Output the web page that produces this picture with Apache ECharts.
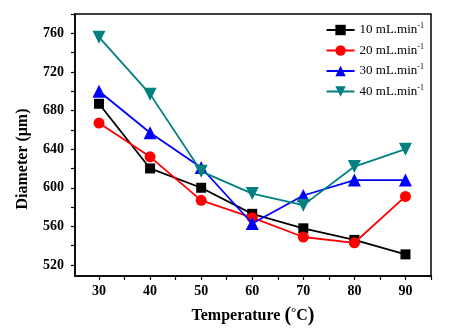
<!DOCTYPE html>
<html><head><meta charset="utf-8">
<script src="https://cdn.jsdelivr.net/npm/echarts@6/dist/echarts.min.js"></script>
<style>html,body{margin:0;padding:0;background:#fff}#c{width:465px;height:335px}</style>
</head><body><div id="c"></div>
<script>
var temps = [30, 40, 50, 60, 70, 80, 90];
var flow10 = [687, 620, 600, 573, 558, 546, 531];
var flow20 = [667, 632, 587, 569, 549, 543, 591];
var flow30 = [700, 657, 621, 563, 592, 608, 608];
var flow40 = [756, 697, 617, 594, 582, 622, 640];
var seriesNames = ['10 mL.min', '20 mL.min', '30 mL.min', '40 mL.min'];
var xLabels = [30, 40, 50, 60, 70, 80, 90];
var xTicks = [25, 30, 35, 40, 45, 50, 55, 60, 65, 70, 75, 80, 85, 90, 95];
var yLabels = [520, 560, 600, 640, 680, 720, 760];
var yTicks = [520, 540, 560, 580, 600, 620, 640, 660, 680, 700, 720, 740, 760, 780];

var FONT = 'Liberation Serif';
function pairs(vals){ return temps.map(function(t,i){ return [t, vals[i]]; }); }
var colors = ['#000000', '#ff0000', '#0000ff', '#008080'];
var symbols = ['rect', 'circle', 'triangle', 'path://M0,0 L10,0 L5,9 Z'];
var sizes = [10, 11, 13, 13];
var data = [flow10, flow20, flow30, flow40];

var chart = echarts.init(document.getElementById('c'), null, {renderer: 'canvas'});
chart.setOption({
  animation: false,
  backgroundColor: '#fff',
  grid: {left: 75, top: 14, right: 34, bottom: 59, show: true, borderColor: '#000', borderWidth: 1.5, backgroundColor: 'transparent'},
  legend: {
    right: 36, top: 17, orient: 'vertical', itemGap: 6, itemWidth: 28, itemHeight: 13,
    data: seriesNames,
    formatter: function(n){ return '{a|' + n + '}{s|-1}'; },
    textStyle: {fontFamily: FONT, fontSize: 13, color: '#000',
      rich: {a: {fontFamily: FONT, fontSize: 13, color: '#000'}, s: {fontFamily: FONT, fontSize: 8, color: '#000', verticalAlign: 'top', padding: [0,0,8,0]}}}
  },
  graphic: [{
    type: 'text', x: 23, y: 159, rotation: Math.PI / 2,
    style: {text: 'Diameter (μm)', fontFamily: FONT, fontSize: 16, fontWeight: 'bold', fill: '#000', align: 'center', verticalAlign: 'middle'}
  }],
  xAxis: {
    type: 'value', min: 25.3, max: 95,
    name: '{t|Temperature }{p|(}{d|°}{t|C}{p|)}', nameLocation: 'middle', nameGap: 30,
    nameTextStyle: {fontFamily: FONT, fontSize: 16, fontWeight: 'bold', color: '#000',
      rich: {
        t: {fontFamily: FONT, fontSize: 16, fontWeight: 'bold', color: '#000'},
        p: {fontFamily: FONT, fontSize: 20, fontWeight: 'bold', color: '#000'},
        d: {fontFamily: FONT, fontSize: 13, fontWeight: 'bold', color: '#000', verticalAlign: 'top', padding: [0,0,6,0]}
      }},
    axisLine: {show: true, onZero: false, lineStyle: {color: '#000', width: 1.5}},
    axisTick: {show: true, inside: false, length: 4, customValues: xTicks, lineStyle: {color: '#000', width: 1.2}},
    axisLabel: {customValues: xLabels, fontFamily: FONT, fontSize: 14, fontWeight: 'bold', color: '#000', margin: 8},
    splitLine: {show: false}
  },
  yAxis: {
    type: 'value', min: 508.6, max: 780,
    axisLine: {show: true, onZero: false, lineStyle: {color: '#000', width: 1.5}},
    axisTick: {show: true, inside: false, length: 4, customValues: yTicks, lineStyle: {color: '#000', width: 1.2}},
    axisLabel: {customValues: yLabels, fontFamily: FONT, fontSize: 14, fontWeight: 'bold', color: '#000', margin: 11},
    splitLine: {show: false}
  },
  series: seriesNames.map(function(n, i){
    return {
      name: n, type: 'line', data: pairs(data[i]),
      symbol: symbols[i], symbolSize: sizes[i],
      lineStyle: {color: colors[i], width: 1.8},
      itemStyle: {color: colors[i]},
      z: 2 + i
    };
  })
});
</script></body></html>
